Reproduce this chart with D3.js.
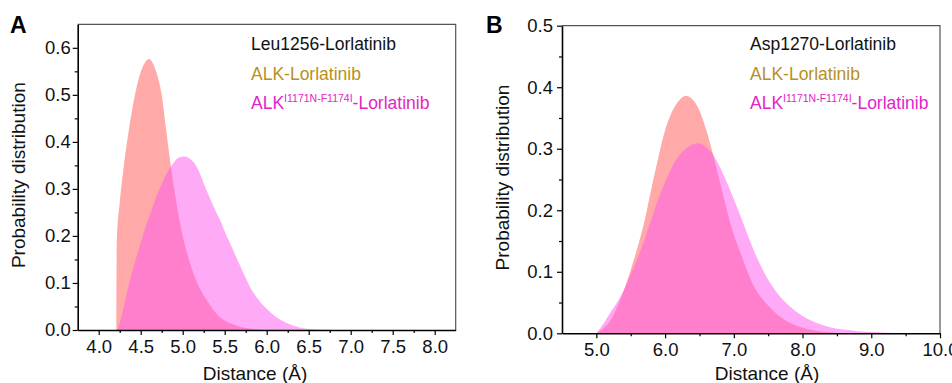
<!DOCTYPE html>
<html>
<head>
<meta charset="utf-8">
<script src="https://cdn.jsdelivr.net/npm/d3@7/dist/d3.min.js"></script>
<style>
  html, body { margin: 0; padding: 0; background: #fff; }
  svg { display: block; font-family: "Liberation Sans", Arial, sans-serif; }
</style>
</head>
<body>
<svg id="chart" width="952" height="383"></svg>
<script>
// Panel A: Leu1256–Lorlatinib distance distributions  [distance (Å), probability]
const leuWildType = [
  [4.21, 0], [4.215, 0.19], [4.25, 0.27], [4.30, 0.35], [4.35, 0.415], [4.40, 0.47],
  [4.45, 0.515], [4.50, 0.548], [4.55, 0.568], [4.60, 0.576], [4.65, 0.565],
  [4.70, 0.54], [4.75, 0.50], [4.80, 0.43], [4.85, 0.36], [4.90, 0.30],
  [4.95, 0.245], [5.00, 0.20], [5.05, 0.165], [5.10, 0.135], [5.15, 0.11],
  [5.20, 0.09], [5.30, 0.06], [5.40, 0.035], [5.50, 0.02], [5.60, 0.012],
  [5.70, 0.006], [5.80, 0.003], [5.90, 0.001], [6.00, 0]
];
const leuMutant = [
  [4.22, 0], [4.25, 0.015], [4.30, 0.05], [4.35, 0.09], [4.40, 0.125], [4.45, 0.155],
  [4.50, 0.185], [4.55, 0.215], [4.60, 0.24], [4.65, 0.265], [4.70, 0.29],
  [4.75, 0.31], [4.80, 0.33], [4.85, 0.345], [4.90, 0.358], [4.95, 0.366],
  [5.00, 0.369], [5.05, 0.368], [5.10, 0.362], [5.15, 0.352], [5.20, 0.335],
  [5.25, 0.312], [5.30, 0.29], [5.35, 0.27], [5.40, 0.25], [5.45, 0.232],
  [5.50, 0.21], [5.60, 0.17], [5.70, 0.13], [5.80, 0.092], [5.90, 0.065],
  [6.00, 0.045], [6.10, 0.029], [6.20, 0.018], [6.30, 0.01], [6.40, 0.005],
  [6.50, 0.002], [6.60, 0.0008], [6.80, 0]
];

// Panel B: Asp1270–Lorlatinib distance distributions
const aspWildType = [
  [5.00, 0], [5.10, 0.008], [5.20, 0.02], [5.30, 0.042], [5.40, 0.07], [5.50, 0.103],
  [5.60, 0.14], [5.70, 0.182], [5.80, 0.235], [5.90, 0.285], [6.00, 0.33],
  [6.10, 0.36], [6.20, 0.378], [6.30, 0.386], [6.40, 0.38], [6.50, 0.362],
  [6.60, 0.33], [6.70, 0.29], [6.80, 0.245], [6.90, 0.2], [7.00, 0.16],
  [7.10, 0.13], [7.20, 0.1], [7.30, 0.075], [7.40, 0.058], [7.50, 0.045],
  [7.60, 0.034], [7.70, 0.025], [7.80, 0.018], [7.90, 0.013], [8.00, 0.009],
  [8.20, 0.004], [8.40, 0.0015], [8.60, 0]
];
const aspMutant = [
  [5.00, 0], [5.10, 0.015], [5.20, 0.033], [5.30, 0.05], [5.40, 0.07], [5.50, 0.095],
  [5.60, 0.122], [5.70, 0.152], [5.80, 0.185], [5.90, 0.218], [6.00, 0.245],
  [6.10, 0.27], [6.20, 0.288], [6.30, 0.3], [6.40, 0.307], [6.50, 0.309],
  [6.60, 0.302], [6.70, 0.29], [6.80, 0.27], [6.90, 0.245], [7.00, 0.218],
  [7.10, 0.19], [7.20, 0.16], [7.30, 0.132], [7.40, 0.108], [7.50, 0.087],
  [7.60, 0.07], [7.70, 0.056], [7.80, 0.045], [7.90, 0.036], [8.00, 0.028],
  [8.20, 0.017], [8.40, 0.01], [8.60, 0.006], [8.80, 0.0035], [9.00, 0.002],
  [9.20, 0.001], [9.50, 0]
];

// Axis ticks
const xTicksA = [4.0, 4.5, 5.0, 5.5, 6.0, 6.5, 7.0, 7.5, 8.0];
const xMinorA = [4.25, 4.75, 5.25, 5.75, 6.25, 6.75, 7.25, 7.75];
const yTicksA = [0.0, 0.1, 0.2, 0.3, 0.4, 0.5, 0.6];
const yMinorA = [0.05, 0.15, 0.25, 0.35, 0.45, 0.55];
const xTicksB = [5.0, 6.0, 7.0, 8.0, 9.0, 10.0];
const xMinorB = [5.5, 6.5, 7.5, 8.5, 9.5];
const yTicksB = [0.0, 0.1, 0.2, 0.3, 0.4, 0.5];
const yMinorB = [0.05, 0.15, 0.25, 0.35, 0.45];

const legendA = "Leu1256-Lorlatinib";
const legendB = "Asp1270-Lorlatinib";
const wildLabel = "ALK-Lorlatinib";
const mutBase = "ALK", mutSup = "I1171N-F1174I", mutTail = "-Lorlatinib";

const svg = d3.select("#chart");

function panel(cfg) {
  const g = svg.append("g");
  const x = d3.scaleLinear().domain(cfg.xDomain).range([cfg.left, cfg.right]);
  const y = d3.scaleLinear().domain(cfg.yDomain).range([cfg.bottom, cfg.top]);

  const area = d3.area()
    .x(d => x(d[0])).y0(y(0)).y1(d => y(d[1]))
    .curve(d3.curveMonotoneX);

  g.append("path").datum(cfg.wild).attr("d", area).attr("fill", "#ffa9a9");
  g.append("path").datum(cfg.mutant).attr("d", area)
    .attr("fill", "#ff55f0").attr("fill-opacity", 0.5);

  // top and right frame
  g.append("path")
    .attr("d", `M${cfg.left},${cfg.top}H${cfg.right}V${cfg.bottom}`)
    .attr("fill", "none").attr("stroke", "#555").attr("stroke-width", 1.2);

  // minor ticks
  g.append("g").attr("transform", `translate(0,${cfg.bottom})`)
    .call(d3.axisBottom(x).tickValues(cfg.xMinor).tickSize(3).tickFormat("").tickSizeOuter(0))
    .call(a => a.select(".domain").remove());
  g.append("g").attr("transform", `translate(${cfg.left},0)`)
    .call(d3.axisLeft(y).tickValues(cfg.yMinor).tickSize(3).tickFormat("").tickSizeOuter(0))
    .call(a => a.select(".domain").remove());

  // major axes
  const xa = g.append("g").attr("transform", `translate(0,${cfg.bottom})`)
    .call(d3.axisBottom(x).tickValues(cfg.xTicks).tickSize(5).tickPadding(5)
      .tickFormat(d3.format(".1f")).tickSizeOuter(0));
  const ya = g.append("g").attr("transform", `translate(${cfg.left},0)`)
    .call(d3.axisLeft(y).tickValues(cfg.yTicks).tickSize(5).tickPadding(cfg.yPad)
      .tickFormat(d3.format(".1f")).tickSizeOuter(0));
  [xa, ya].forEach(a => {
    a.select(".domain").attr("stroke", "#000").attr("stroke-width", 1.6);
    a.selectAll("text").attr("font-size", 18.5).attr("fill", "#111")
      .attr("font-family", "Liberation Sans, Arial, sans-serif");
  });
  g.selectAll(".tick line").attr("stroke", "#000").attr("stroke-width", 1.2);

  // axis titles
  g.append("text").attr("x", cfg.xTitleX).attr("y", 380)
    .attr("text-anchor", "middle").attr("font-size", 19).attr("fill", "#111")
    .text("Distance (Å)");
  g.append("text")
    .attr("transform", `translate(${cfg.yTitleX},${(cfg.top + cfg.bottom) / 2 - 2}) rotate(-90)`)
    .attr("text-anchor", "middle").attr("font-size", 19).attr("fill", "#111")
    .text("Probability distribution");

  // panel letter
  g.append("text").attr("x", cfg.letterX).attr("y", 33)
    .attr("font-size", 23).attr("font-weight", "bold").attr("fill", "#000")
    .text(cfg.letter);

  // legend
  const lx = cfg.legendX;
  g.append("text").attr("x", lx).attr("y", 50).attr("font-size", 17.5)
    .attr("fill", "#111").text(cfg.legendTitle);
  g.append("text").attr("x", lx).attr("y", 79.5).attr("font-size", 17.5)
    .attr("fill", "#b8901e").text(wildLabel);
  const t = g.append("text").attr("x", lx).attr("y", 108.5).attr("font-size", 17.5)
    .attr("fill", "#e324c8");
  t.append("tspan").text(mutBase);
  t.append("tspan").attr("font-size", 10.5).attr("dy", -7).text(mutSup);
  t.append("tspan").attr("font-size", 17.5).attr("dy", 7).text(mutTail);
}

panel({
  letter: "A", letterX: 10,
  left: 77.7, right: 455.7, top: 24.3, bottom: 330,
  xDomain: [3.75, 8.25], yDomain: [0, 0.65],
  xTicks: xTicksA, xMinor: xMinorA, yTicks: yTicksA, yMinor: yMinorA,
  wild: leuWildType, mutant: leuMutant,
  xTitleX: 255, yTitleX: 25, yPad: 2,
  legendX: 251, legendTitle: legendA
});

panel({
  letter: "B", letterX: 486,
  left: 562, right: 940, top: 25.7, bottom: 333.3,
  xDomain: [4.5, 10], yDomain: [0, 0.5],
  xTicks: xTicksB, xMinor: xMinorB, yTicks: yTicksB, yMinor: yMinorB,
  wild: aspWildType, mutant: aspMutant,
  xTitleX: 767, yTitleX: 509, yPad: 4,
  legendX: 750, legendTitle: legendB
});
</script>
</body>
</html>
